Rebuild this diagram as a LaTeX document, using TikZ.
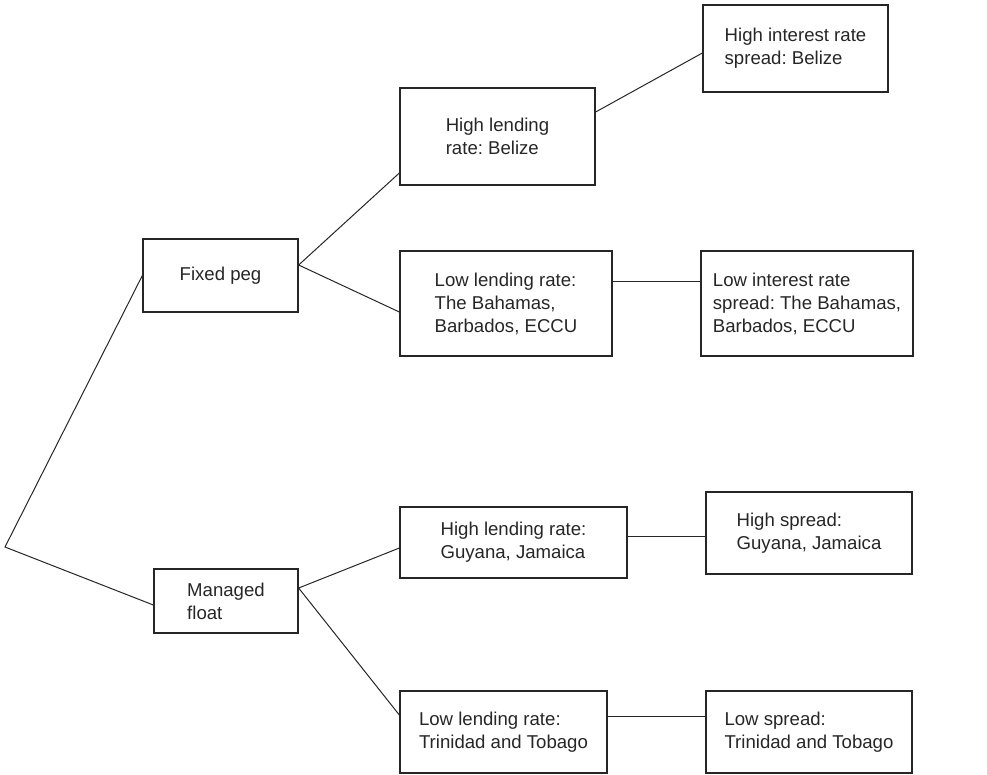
\documentclass[tikz,border=0pt]{standalone}
\usepackage{fontspec}
\setmainfont{Liberation Sans}
\usetikzlibrary{calc}
\frenchspacing
\begin{document}
\begin{tikzpicture}[x=1pt,y=-1pt,
  box/.style={draw=black!85, line width=1.3pt, inner sep=0pt, align=left,
    font=\fontsize{18.6}{23}\selectfont\frenchspacing, text=black!85},
  conn/.style={draw=black!85, line width=1pt}]
\useasboundingbox (0,0) rectangle (987,774);
% boxes
\node[box, minimum width=155, minimum height=73] (fp) at (220.5,275.5) {Fixed peg};
\node[box, minimum width=144, minimum height=64] (mf) at (226,601) {Managed\\float};
\node[box, minimum width=195, minimum height=97] (hlb) at (497.5,136.5) {High lending\\rate: Belize};
\node[box, minimum width=212, minimum height=105] (llb) at (506,303.5) {Low lending rate:\\The Bahamas,\\Barbados, ECCU};
\node[box, minimum width=185, minimum height=87] (his) at (795.5,48.5) {High interest rate\\spread: Belize};
\node[box, minimum width=212, minimum height=105] (lis) at (807,303.5) {Low interest rate\\spread: The Bahamas,\\Barbados, ECCU};
\node[box, minimum width=227, minimum height=71] (hlg) at (513.5,542.5) {High lending rate:\\Guyana, Jamaica};
\node[box, minimum width=206, minimum height=82] (hsg) at (809,533) {High spread:\\Guyana, Jamaica};
\node[box, minimum width=207, minimum height=82] (llt) at (503.5,732) {Low lending rate:\\Trinidad and Tobago};
\node[box, minimum width=206, minimum height=82] (lsp) at (809,732) {Low spread:\\Trinidad and Tobago};
% connectors
\coordinate (v) at (5,547);
\draw[conn] (fp.west) -- (v) -- ($(mf.west)+(0,4)$);
\draw[conn] ($(hlb.west)+(0,36.5)$) -- ($(fp.east)+(0,-10.5)$) -- ($(llb.west)+(0,8.5)$);
\draw[conn] ($(hlb.east)+(0,-24.5)$) -- ($(his.west)+(0,4.5)$);
\draw[conn] ($(llb.east)+(0,-22.5)$) -- ($(lis.west)+(0,-22.5)$);
\draw[conn] ($(hlg.west)+(0,5.5)$) -- ($(mf.east)+(0,-13)$) -- ($(llt.west)+(0,-17)$);
\draw[conn] ($(hlg.east)+(0,-6.5)$) -- ($(hsg.west)+(0,3)$);
\draw[conn] ($(llt.east)+(0,-16)$) -- ($(lsp.west)+(0,-16)$);
\end{tikzpicture}
\end{document}
